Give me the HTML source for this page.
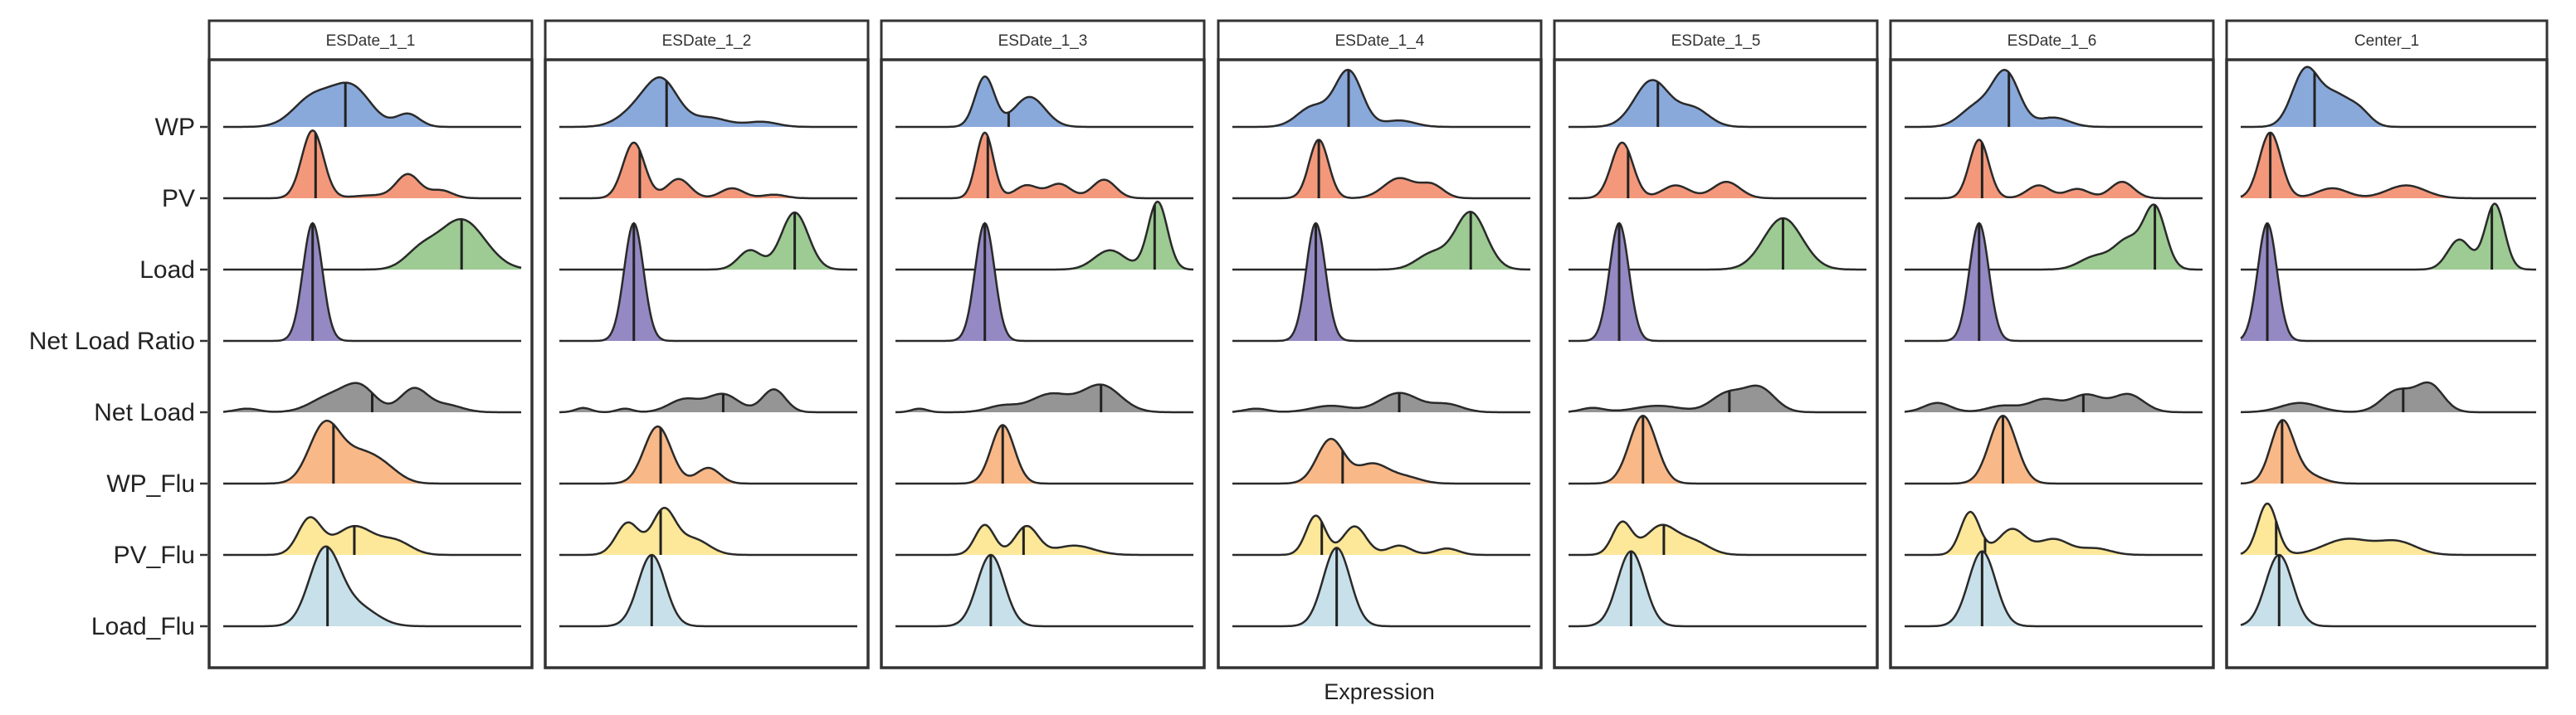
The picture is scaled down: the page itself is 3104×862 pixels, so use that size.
<!DOCTYPE html>
<html><head><meta charset="utf-8"><style>
html,body{margin:0;padding:0;background:#fff}
svg{display:block}
</style></head><body>
<svg id="chart" width="3104" height="862" viewBox="0 0 3104 862" xmlns="http://www.w3.org/2000/svg" font-family="Liberation Sans, sans-serif">
<text x="1662" y="843" font-size="27" text-anchor="middle" fill="#222">Expression</text>
</svg>
<script>
const panelNames = ["ESDate_1_1","ESDate_1_2","ESDate_1_3","ESDate_1_4","ESDate_1_5","ESDate_1_6","Center_1"];
const rowNames = ["WP","PV","Load","Net Load Ratio","Net Load","WP_Flu","PV_Flu","Load_Flu"];
const rowColors = ["#8aa9db","#f4987c","#9dcb93","#9589c4","#959595","#f9b887","#fde799","#c8e0ea"];
// peaks per row per panel: [x(0-1), height (row units), sd]
const wpPeaks = [
 [[0.30,0.4,0.05],[0.43,0.55,0.05],[0.62,0.18,0.03]],
 [[0.28,0.3,0.05],[0.35,0.5,0.04],[0.5,0.13,0.05],[0.68,0.07,0.04]],
 [[0.30,0.7,0.025],[0.45,0.42,0.04]],
 [[0.27,0.28,0.04],[0.39,0.78,0.035],[0.56,0.09,0.04]],
 [[0.28,0.65,0.045],[0.42,0.25,0.04]],
 [[0.24,0.28,0.04],[0.34,0.75,0.035],[0.5,0.13,0.04]],
 [[0.22,0.8,0.035],[0.32,0.4,0.035],[0.4,0.22,0.03]]
];
const pvPeaks = [
 [[0.30,0.95,0.028],[0.5,0.04,0.05],[0.62,0.33,0.03],[0.73,0.11,0.03]],
 [[0.25,0.78,0.028],[0.40,0.27,0.03],[0.58,0.14,0.03],[0.72,0.05,0.03]],
 [[0.30,0.92,0.022],[0.44,0.18,0.03],[0.55,0.2,0.03],[0.70,0.26,0.03]],
 [[0.29,0.82,0.025],[0.56,0.28,0.04],[0.67,0.18,0.03]],
 [[0.18,0.78,0.028],[0.36,0.18,0.035],[0.53,0.23,0.035]],
 [[0.25,0.82,0.025],[0.45,0.18,0.03],[0.58,0.13,0.03],[0.73,0.23,0.03]],
 [[0.10,0.92,0.028],[0.31,0.14,0.04],[0.56,0.18,0.05]]
];
const loadPeaks = [
 [[0.66,0.22,0.04],[0.80,0.7,0.06]],
 [[0.64,0.27,0.03],[0.79,0.8,0.035]],
 [[0.72,0.27,0.04],[0.88,0.95,0.025]],
 [[0.67,0.22,0.04],[0.80,0.8,0.04]],
 [[0.72,0.72,0.05]],
 [[0.64,0.18,0.04],[0.75,0.4,0.035],[0.84,0.85,0.028]],
 [[0.74,0.42,0.03],[0.86,0.92,0.025]]
];
const nlrPeaks = [
 [[0.30,1.65,0.025]],[[0.25,1.65,0.025]],[[0.30,1.65,0.025]],[[0.28,1.65,0.025]],
 [[0.17,1.65,0.025]],[[0.25,1.65,0.025]],[[0.09,1.65,0.025]]
];
const netPeaks = [
 [[0.08,0.05,0.03],[0.36,0.22,0.05],[0.46,0.33,0.04],[0.64,0.33,0.035],[0.75,0.1,0.04]],
 [[0.08,0.06,0.02],[0.22,0.05,0.02],[0.42,0.18,0.04],[0.55,0.25,0.04],[0.72,0.32,0.03]],
 [[0.08,0.05,0.02],[0.36,0.09,0.04],[0.52,0.25,0.05],[0.69,0.38,0.05]],
 [[0.08,0.05,0.03],[0.33,0.09,0.05],[0.56,0.27,0.05],[0.72,0.11,0.04]],
 [[0.08,0.06,0.03],[0.3,0.09,0.06],[0.53,0.25,0.04],[0.64,0.34,0.04]],
 [[0.11,0.13,0.035],[0.33,0.09,0.04],[0.47,0.18,0.04],[0.61,0.24,0.04],[0.75,0.25,0.04]],
 [[0.20,0.13,0.05],[0.53,0.3,0.04],[0.64,0.38,0.035]]
];
const wpFluPeaks = [
 [[0.34,0.8,0.04],[0.46,0.4,0.05],[0.55,0.13,0.04]],
 [[0.33,0.8,0.035],[0.5,0.22,0.03]],
 [[0.36,0.82,0.03]],
 [[0.33,0.62,0.035],[0.47,0.27,0.04],[0.58,0.09,0.04]],
 [[0.25,0.95,0.035]],
 [[0.33,0.95,0.035]],
 [[0.14,0.85,0.03],[0.22,0.13,0.04]]
];
const pvFluPeaks = [
 [[0.29,0.5,0.03],[0.44,0.4,0.05],[0.58,0.18,0.04]],
 [[0.23,0.45,0.03],[0.35,0.62,0.03],[0.45,0.22,0.04]],
 [[0.30,0.42,0.025],[0.44,0.4,0.03],[0.6,0.13,0.05]],
 [[0.28,0.55,0.025],[0.41,0.4,0.03],[0.56,0.13,0.03],[0.72,0.09,0.03]],
 [[0.18,0.45,0.025],[0.31,0.4,0.04],[0.42,0.18,0.04]],
 [[0.22,0.6,0.025],[0.36,0.36,0.035],[0.5,0.22,0.04],[0.64,0.09,0.04]],
 [[0.09,0.72,0.025],[0.36,0.22,0.06],[0.53,0.18,0.05]]
];
const loadFluPeaks = [
 [[0.34,1.05,0.04],[0.45,0.27,0.05]],
 [[0.31,1.0,0.035]],
 [[0.32,1.0,0.035]],
 [[0.35,1.1,0.035]],
 [[0.21,1.05,0.035]],
 [[0.26,1.05,0.035]],
 [[0.13,1.0,0.035]]
];
const medWP = [0.41,0.36,0.38,0.39,0.30,0.35,0.25];
const medPV = [0.31,0.27,0.31,0.29,0.20,0.26,0.10];
const medLoad = [0.80,0.79,0.87,0.80,0.72,0.84,0.85];
const medNLR = [0.30,0.25,0.30,0.28,0.17,0.25,0.09];
const medNet = [0.50,0.55,0.69,0.56,0.54,0.60,0.55];
const medWPFlu = [0.37,0.34,0.36,0.37,0.25,0.33,0.14];
const medPVFlu = [0.44,0.34,0.43,0.30,0.32,0.27,0.12];
const medLoadFlu = [0.35,0.31,0.32,0.35,0.21,0.26,0.13];

const allPeaks = [wpPeaks,pvPeaks,loadPeaks,nlrPeaks,netPeaks,wpFluPeaks,pvFluPeaks,loadFluPeaks];
const allMeds = [medWP,medPV,medLoad,medNLR,medNet,medWPFlu,medPVFlu,medLoadFlu];

const svg = document.getElementById('chart');
const NS = 'http://www.w3.org/2000/svg';
const panelLeft0 = 252, panelStep = 405.2, panelW = 389;
const stripTop = 25, stripBot = 72, panelBot = 805;
const base0 = 153, rowStep = 86;
const SD_SCALE = 1.3;
function mk(tag, attrs){const e=document.createElementNS(NS,tag);for(const k in attrs)e.setAttribute(k,attrs[k]);return e;}
function yBase(r){return base0 + r*rowStep;}
function dens(peaks,x){let s=0;for(const p of peaks){const sd=p[2]*SD_SCALE;s+=p[1]*Math.exp(-((x-p[0])**2)/(2*sd*sd));}return s;}

rowNames.forEach((n,r)=>{
  const t = mk('text',{x:235,y:yBase(r)+10,'font-size':30,'text-anchor':'end',fill:'#222'});
  t.textContent = n;
  
  
  svg.appendChild(t);
  const tk = mk('line',{x1:241,x2:250,y1:yBase(r),y2:yBase(r),stroke:'#333','stroke-width':2.5});
  
  
  svg.appendChild(tk);
});

panelNames.forEach((pn,pi)=>{
  const L = Math.round(panelLeft0 + pi*panelStep);
  const W = pi===6 ? 386 : panelW;
  const g = mk('g',{});
  
  
  svg.appendChild(g);
  const strip = mk('rect',{x:L,y:stripTop,width:W,height:stripBot-stripTop,fill:'#fff',stroke:'#333','stroke-width':3});
  
  
  g.appendChild(strip);
  const st = mk('text',{x:L+W/2,y:55,'font-size':19,'text-anchor':'middle',fill:'#333'});
  st.textContent = pn;
  
  
  g.appendChild(st);
  const x0 = L+17, x1 = L+W-13;
  const sx = v => x0 + v*(x1-x0);
  for(let r=0;r<8;r++){
    const peaks = allPeaks[r][pi];
    const yb = yBase(r);
    let d = 'M'+x0+','+yb;
    let outline = '';
    const N = 240;
    for(let i=0;i<=N;i++){
      const v=i/N; const y = yb - dens(peaks,v)*rowStep;
      d += ' L'+sx(v).toFixed(1)+','+y.toFixed(1);
      outline += (i?' L':'M')+sx(v).toFixed(1)+','+y.toFixed(1);
    }
    d += ' L'+x1+','+yb+' Z';
    const area = mk('path',{d:d,fill:rowColors[r],stroke:'none'});
    
    
    g.appendChild(area);
    const ln = mk('path',{d:outline,fill:'none',stroke:'#2a2a2a','stroke-width':2.5});
    
    
    g.appendChild(ln);
    const m = allMeds[r][pi];
    const mh = yb - dens(peaks,m)*rowStep;
    const ml = mk('line',{x1:sx(m),x2:sx(m),y1:yb,y2:mh,stroke:'#222','stroke-width':3});
    
    
    g.appendChild(ml);
  }
  const frame = mk('rect',{x:L,y:stripBot,width:W,height:panelBot-stripBot,fill:'none',stroke:'#333','stroke-width':3.5});
  
  
  g.appendChild(frame);
});
</script>
</body></html>
